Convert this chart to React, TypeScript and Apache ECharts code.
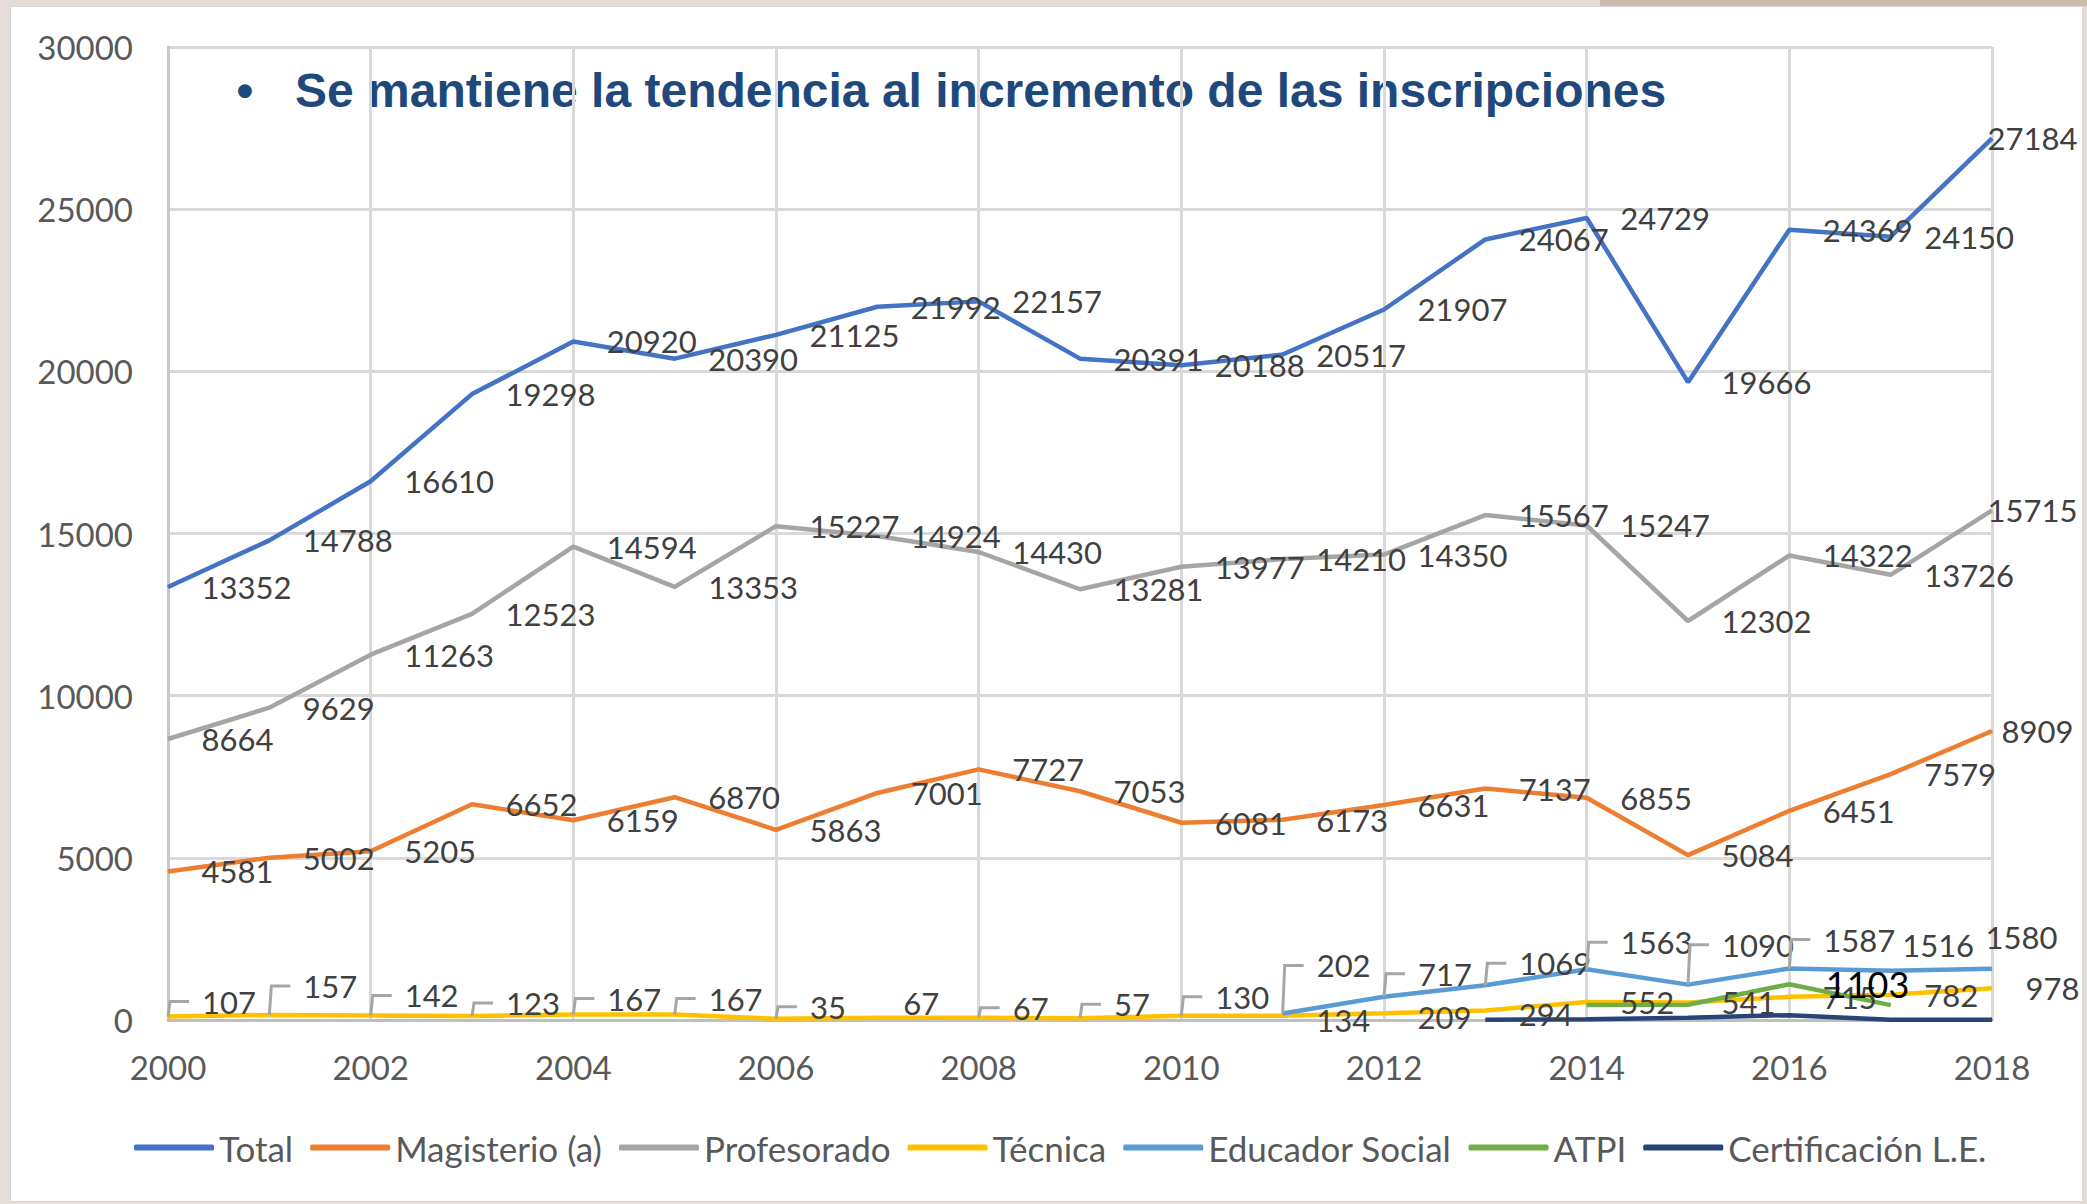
import React, { useEffect, useRef } from "react";
import * as echarts from "echarts";

const YEARS = ["2000","2001","2002","2003","2004","2005","2006","2007","2008","2009","2010","2011","2012","2013","2014","2015","2016","2017","2018"];
const TOTAL = [13352, 14788, 16610, 19298, 20920, 20390, 21125, 21992, 22157, 20391, 20188, 20517, 21907, 24067, 24729, 19666, 24369, 24150, 27184];
const MAGISTERIO = [4581, 5002, 5205, 6652, 6159, 6870, 5863, 7001, 7727, 7053, 6081, 6173, 6631, 7137, 6855, 5084, 6451, 7579, 8909];
const PROFESORADO = [8664, 9629, 11263, 12523, 14594, 13353, 15227, 14924, 14430, 13281, 13977, 14210, 14350, 15567, 15247, 12302, 14322, 13726, 15715];
const TECNICA = [107, 157, 142, 123, 167, 167, 35, 67, 67, 57, 130, 134, 209, 294, 552, 541, 715, 782, 978];
const EDUCADOR = [null, null, null, null, null, null, null, null, null, null, null, 202, 717, 1069, 1563, 1090, 1587, 1516, 1580];
const ATPI = [null, null, null, null, null, null, null, null, null, null, null, null, null, null, 460, 470, 1103, 460, null];
const CERT = [null, null, null, null, null, null, null, null, null, null, null, null, null, 10, 20, 70, 150, 10, 10];
const Y_TICKS = { min: 0, max: 30000, interval: 5000 };
const TITLE = "Se mantiene la tendencia al incremento de las inscripciones";
const LEGEND = ["Total", "Magisterio (a)", "Profesorado", "Técnica", "Educador Social", "ATPI", "Certificación L.E."];

// label callout layout (pixels), kept apart from the data
const TEC_RISE = [15, 29, 20, 13, 16, 16, 12, -1, 10, 14, 19];
const EDU_RISE: Record<number, number> = { 11: 48, 12: 23, 13: 22, 14: 27, 15: 40, 16: 29 };

const COLORS = ["#4472C4", "#ED7D31", "#A5A5A5", "#FFC000", "#5B9BD5", "#70AD47", "#264478"];
const LABEL_FONT = "Lato";
const LABEL_COLOR = "#404040";
const LABEL_SIZE = 31;

function calloutRender(riseOf: (i: number) => number) {
  return (params: any, api: any) => {
    const idx = api.value(0);
    const val = api.value(1);
    const p = api.coord([idx, val]);
    const rise = riseOf(idx);
    if (rise < 0) {
      return {
        type: "text",
        style: {
          text: String(val), x: p[0] + 26, y: p[1] - 15,
          align: "left", verticalAlign: "middle",
          fontFamily: LABEL_FONT, fontSize: LABEL_SIZE, fill: LABEL_COLOR,
        },
      };
    }
    return {
      type: "group",
      children: [
        {
          type: "polyline",
          shape: { points: [[p[0], p[1]], [p[0] + 2, p[1] - rise], [p[0] + 21, p[1] - rise]] },
          style: { stroke: "#A6A6A6", lineWidth: 3, fill: null },
        },
        {
          type: "text",
          style: {
            text: String(val), x: p[0] + 34, y: p[1] - rise,
            align: "left", verticalAlign: "middle",
            fontFamily: LABEL_FONT, fontSize: LABEL_SIZE, fill: LABEL_COLOR,
          },
        },
      ],
    };
  };
}

export default function App() {
  const ref = useRef<HTMLDivElement>(null);
  useEffect(() => {
    if (!ref.current) return;
    const chart = echarts.init(ref.current, null, { renderer: "svg" });
    const baseLabel = {
      show: true, position: "right", distance: 33,
      fontFamily: LABEL_FONT, fontSize: LABEL_SIZE, color: LABEL_COLOR,
    };
    const line = (name: string, data: any[], color: string, extra: any = {}) => ({
      type: "line", name, data, color,
      symbol: "circle", symbolSize: 1, showSymbol: true,
      lineStyle: { width: 4.5, color },
      itemStyle: { color },
      connectNulls: false,
      label: baseLabel,
      ...extra,
    });
    const tecCallData = TECNICA.slice(0, 11).map((v, i) => [i, v]);
    const eduCallData = EDUCADOR.map((v, i) => [i, v]).filter((d) => d[1] != null && EDU_RISE[d[0] as number] != null);

    chart.setOption({
      animation: false,
      backgroundColor: "transparent",
      grid: { left: 168, right: 95, top: 47, bottom: 184, containLabel: false },
      xAxis: {
        type: "category", data: YEARS, boundaryGap: false,
        axisLine: { show: true, lineStyle: { color: "#BFBFBF", width: 3 } },
        axisTick: { show: false },
        axisLabel: { interval: 1, margin: 30, fontFamily: LABEL_FONT, fontSize: 33, color: "#595959" },
        splitLine: { show: true, interval: 1, lineStyle: { color: "#D9D9D9", width: 3 } },
      },
      yAxis: {
        type: "value", min: Y_TICKS.min, max: Y_TICKS.max, interval: Y_TICKS.interval,
        axisLine: { show: true, lineStyle: { color: "#C8C8C8", width: 3 } },
        axisTick: { show: false },
        axisLabel: { margin: 35, fontFamily: LABEL_FONT, fontSize: 33, color: "#595959", formatter: (v: number) => String(v) },
        splitLine: { show: true, lineStyle: { color: "#D9D9D9", width: 3 } },
      },
      legend: {
        data: LEGEND, left: 129, top: 1125,
        icon: "roundRect", itemWidth: 80, itemHeight: 6, itemGap: 17,
        textStyle: { fontFamily: LABEL_FONT, fontSize: 35, color: "#595959" },
      },
      graphic: [
        {
          type: "text", x: 245, y: 90,
          style: { text: "•", align: "center", verticalAlign: "middle", font: 'bold 48px "Liberation Sans"', fill: "#1F497D" },
        },
        {
          type: "text", x: 295, y: 90,
          style: { text: TITLE, align: "left", verticalAlign: "middle", font: 'bold 48px "Liberation Sans"', fill: "#1F497D" },
        },
      ],
      series: [
        line("Total", TOTAL, COLORS[0], {
          labelLayout: (p: any) => (p.dataIndex === 18 ? { dx: -38 } : {}),
        }),
        line("Magisterio (a)", MAGISTERIO, COLORS[1], {
          labelLayout: (p: any) => (p.dataIndex === 18 ? { dx: -24 } : {}),
        }),
        line("Profesorado", PROFESORADO, COLORS[2], {
          labelLayout: (p: any) => (p.dataIndex === 18 ? { dx: -38 } : {}),
        }),
        line("Técnica", TECNICA, COLORS[3], {
          label: { ...baseLabel, formatter: (p: any) => (p.dataIndex >= 11 ? String(p.value) : "") },
          labelLayout: (p: any) => (p.dataIndex >= 11 && p.dataIndex <= 13 ? { dy: 4 } : {}),
        }),
        line("Educador Social", EDUCADOR, COLORS[4], {
          label: { ...baseLabel, formatter: (p: any) => (p.dataIndex >= 17 ? String(p.value) : "") },
          labelLayout: (p: any) =>
            p.dataIndex === 17 ? { dx: -22, dy: -26 } : p.dataIndex === 18 ? { dx: -40, dy: -32 } : {},
        }),
        line("ATPI", ATPI.map((v, i) => (i === 16 ? { value: v, label: { show: true, color: "#000000", fontSize: 36, distance: 36 } } : v)), COLORS[5], {
          label: { ...baseLabel, show: false },
        }),
        line("Certificación L.E.", CERT, COLORS[6], { label: { show: false } }),
        {
          type: "custom", name: "tec-callouts", coordinateSystem: "cartesian2d",
          data: tecCallData, encode: { x: 0, y: 1 }, silent: true, z: 5,
          renderItem: calloutRender((i) => TEC_RISE[i]),
        },
        {
          type: "custom", name: "edu-callouts", coordinateSystem: "cartesian2d",
          data: eduCallData, encode: { x: 0, y: 1 }, silent: true, z: 5,
          renderItem: calloutRender((i) => EDU_RISE[i]),
        },
      ],
    });
    return () => chart.dispose();
  }, []);

  return (
    <div style={{ position: "fixed", left: 0, top: 0, width: 2087, height: 1204, background: "#E4DCD8", overflow: "hidden" }}>
      <div style={{ position: "absolute", left: 1600, top: 0, width: 487, height: 6, background: "#CBBDAC" }} />
      <div style={{ position: "absolute", left: 10, top: 6, width: 2073, height: 1196, background: "#FFFFFF", boxSizing: "border-box", border: "1px solid #D8D8D8" }} />
      <div ref={ref} style={{ position: "absolute", left: 0, top: 0, width: 2087, height: 1204 }} />
    </div>
  );
}
